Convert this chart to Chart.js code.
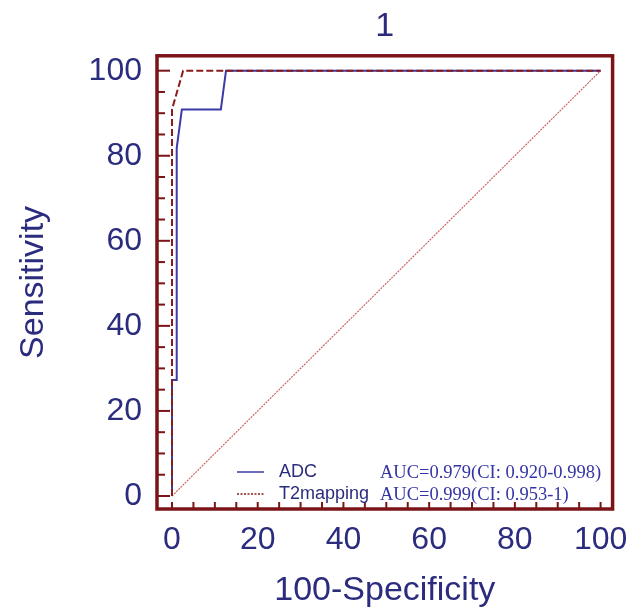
<!DOCTYPE html>
<html>
<head>
<meta charset="utf-8">
<script src="https://cdn.jsdelivr.net/npm/chart.js@4/dist/chart.umd.min.js"></script>
<style>
  body { margin: 0; background: #fff; }
  canvas { display: block; }
</style>
</head>
<body>
<canvas id="roc" width="640" height="610"></canvas>
<script>
// ROC curves
const adcX = [0, 0, 1.1, 1.1, 2.3, 11.4, 12.6, 100];
const adcY = [0, 27.3, 27.3, 81.8, 90.9, 90.9, 100, 100];
const t2X = [0, 0, 2.6, 100];
const t2Y = [0, 90.9, 100, 100];
const refX = [0, 100];
const refY = [0, 100];

const seriesNames = ['ADC', 'T2mapping'];
const aucLabels = ['AUC=0.979(CI: 0.920-0.998)', 'AUC=0.999(CI: 0.953-1)'];
const xTicks = [0, 20, 40, 60, 80, 100];
const yTicks = [0, 20, 40, 60, 80, 100];

const NAVY = '#2c2c7e';
const MAROON = '#7a1417';
const BLUE = '#3a3aa8';
const DARKRED = '#8b1c1c';

const pts = (xs, ys) => xs.map((x, i) => ({ x: x, y: ys[i] }));

// frame + inward tick marks
const framePlugin = {
    id: 'frame',
    afterDatasetsDraw(chart) {
        const { ctx, chartArea: a, scales } = chart;
        ctx.save();
        ctx.strokeStyle = MAROON;
        ctx.lineWidth = 2;
        for (let v = 0; v <= 100; v += 5) {
            const py = scales.y.getPixelForValue(v);
            const len = v % 20 === 0 ? 13 : 8;
            ctx.beginPath();
            ctx.moveTo(a.left, py);
            ctx.lineTo(a.left + len, py);
            ctx.stroke();
            const px = scales.x.getPixelForValue(v);
            ctx.beginPath();
            ctx.moveTo(px, a.bottom);
            ctx.lineTo(px, a.bottom - 7);
            ctx.stroke();
        }
        ctx.lineWidth = 3.5;
        ctx.strokeRect(a.left, a.top, a.right - a.left, a.bottom - a.top);
        ctx.restore();
    }
};

// legend inside the plot, bottom right
const legendPlugin = {
    id: 'rocLegend',
    afterDraw(chart) {
        const { ctx, chartArea: a } = chart;
        const rows = [a.bottom - 37, a.bottom - 15];
        ctx.save();
        ctx.textBaseline = 'middle';
        chart.data.datasets.slice(0, 2).forEach((ds, i) => {
            const y = rows[i];
            ctx.strokeStyle = ds.borderColor;
            ctx.lineWidth = 1.5;
            ctx.setLineDash(i === 0 ? [] : [2, 1.5]);
            ctx.beginPath();
            ctx.moveTo(a.left + 80, y);
            ctx.lineTo(a.left + 107, y);
            ctx.stroke();
            ctx.setLineDash([]);
            ctx.fillStyle = NAVY;
            ctx.font = '18px "Liberation Sans", Arial, sans-serif';
            ctx.fillText(seriesNames[i], a.left + 122, y);
            ctx.fillStyle = '#3434a6';
            ctx.font = '18.5px "Liberation Serif", "Times New Roman", serif';
            ctx.fillText(aucLabels[i], a.left + 223, y + 1);
        });
        ctx.restore();
    }
};

const fixTicks = list => scale => { scale.ticks = list.map(v => ({ value: v })); };

new Chart(document.getElementById('roc'), {
    type: 'scatter',
    data: {
        datasets: [
            {
                label: seriesNames[0],
                data: pts(adcX, adcY),
                showLine: true,
                borderColor: BLUE,
                borderWidth: 2,
                pointRadius: 0,
                order: 1
            },
            {
                label: seriesNames[1],
                data: pts(t2X, t2Y),
                showLine: true,
                borderColor: DARKRED,
                borderWidth: 2,
                borderDash: [7, 3],
                pointRadius: 0,
                order: 0
            },
            {
                label: 'reference',
                data: pts(refX, refY),
                showLine: true,
                borderColor: '#cc6666',
                borderWidth: 1.2,
                borderDash: [2, 1],
                pointRadius: 0,
                order: 2
            }
        ]
    },
    options: {
        responsive: false,
        animation: false,
        layout: { padding: 0 },
        plugins: {
            legend: { display: false },
            tooltip: { enabled: false },
            title: {
                display: true,
                text: '1',
                fullSize: false,
                color: NAVY,
                font: { family: '"Liberation Sans", Arial, sans-serif', size: 34, weight: 'normal', lineHeight: 1.2 },
                padding: { top: 6, bottom: 9 }
            }
        },
        scales: {
            x: {
                type: 'linear',
                min: -3.5,
                max: 102.8,
                afterBuildTicks: fixTicks(xTicks),
                afterFit: s => { s.height = 101; },
                grid: { display: false, drawTicks: false },
                border: { display: false },
                ticks: {
                    color: NAVY,
                    padding: 12,
                    font: { family: '"Liberation Sans", Arial, sans-serif', size: 32 }
                },
                title: {
                    display: true,
                    text: '100-Specificity',
                    color: NAVY,
                    font: { family: '"Liberation Sans", Arial, sans-serif', size: 34 },
                    padding: { top: 0, bottom: -1 }
                }
            },
            y: {
                type: 'linear',
                min: -3.06,
                max: 103.5,
                afterBuildTicks: fixTicks(yTicks),
                afterFit: s => { s.width = 157; },
                grid: { display: false, drawTicks: false },
                border: { display: false },
                ticks: {
                    color: NAVY,
                    padding: 15,
                    font: { family: '"Liberation Sans", Arial, sans-serif', size: 32 }
                },
                title: {
                    display: true,
                    text: 'Sensitivity',
                    color: NAVY,
                    font: { family: '"Liberation Sans", Arial, sans-serif', size: 34 },
                    padding: { top: 13, bottom: 0 }
                }
            }
        }
    },
    plugins: [framePlugin, legendPlugin]
});
</script>
</body>
</html>
